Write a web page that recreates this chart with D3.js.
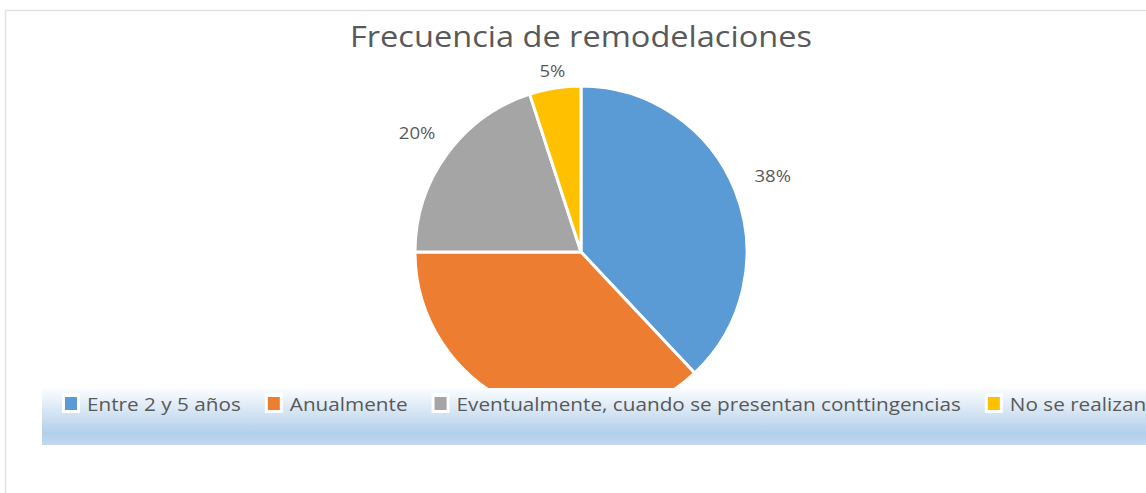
<!DOCTYPE html>
<html>
<head>
<meta charset="utf-8">
<script src="https://cdn.jsdelivr.net/npm/d3@7"></script>
<style>
  body { margin: 0; background: #ffffff; }
  svg { display: block; }
</style>
</head>
<body>
<script>
const categories = ["Entre 2 y 5 años", "Anualmente", "Eventualmente, cuando se presentan conttingencias", "No se realizan"];
const values = [38, 37, 20, 5];
const colors = ["#5b9bd5", "#ed7d31", "#a5a5a5", "#ffc000"];
const chartTitle = "Frecuencia de remodelaciones";

const W = 1146, H = 493;
const cx = 581, cy = 252, radius = 166;
const textColor = "#595959";
const fontFamily = "'Open Sans', 'DejaVu Sans', sans-serif";
const stretch = 1.09; // glyphs in the reference are a bit wider than Open Sans

const svg = d3.select("body").append("svg")
    .attr("width", W)
    .attr("height", H);

// chart frame
svg.append("rect")
    .attr("x", 5.5)
    .attr("y", 10.5)
    .attr("width", W + 20)
    .attr("height", H + 20)
    .attr("fill", "#ffffff")
    .attr("stroke", "#e3e3e3")
    .attr("stroke-width", 1.5);

// title
svg.append("text")
    .attr("x", cx)
    .attr("y", 47)
    .attr("text-anchor", "middle")
    .attr("font-family", fontFamily)
    .attr("font-size", "29px")
    .attr("fill", textColor)
    .attr("textLength", 462)
    .attr("lengthAdjust", "spacingAndGlyphs")
    .text(chartTitle);

const data = categories.map((c, i) => ({ label: c, value: values[i], color: colors[i] }));
const total = d3.sum(values);

const pie = d3.pie()
    .sort(null)
    .value(d => d.value);

const arc = d3.arc()
    .innerRadius(0)
    .outerRadius(radius);

const g = svg.append("g")
    .attr("transform", "translate(" + cx + "," + cy + ")");

const arcs = pie(data);

g.selectAll("path")
    .data(arcs)
    .enter().append("path")
    .attr("d", arc)
    .attr("fill", d => d.data.color)
    .attr("stroke", "#ffffff")
    .attr("stroke-width", 3)
    .attr("stroke-linejoin", "round");

// outside-end labels
const labels = g.selectAll(".lbl")
    .data(arcs)
    .enter().append("text")
    .attr("class", "lbl")
    .attr("font-family", fontFamily)
    .attr("font-size", "17px")
    .attr("fill", textColor)
    .attr("text-anchor", "middle")
    .attr("dy", "0.35em")
    .text(d => Math.round(d.data.value / total * 100) + "%");

labels.each(function(d) {
    const a = (d.startAngle + d.endAngle) / 2;
    const w = this.getComputedTextLength() * stretch;
    const s = Math.sin(a), c = Math.cos(a);
    const dist = radius + 13 + (11 + w / 2) * Math.abs(s);
    d3.select(this)
        .attr("x", dist * s)
        .attr("y", -dist * c)
        .attr("textLength", w)
        .attr("lengthAdjust", "spacingAndGlyphs");
});

// legend band
const defs = svg.append("defs");
const grad = defs.append("linearGradient")
    .attr("id", "legendGrad")
    .attr("x1", 0).attr("y1", 0)
    .attr("x2", 0).attr("y2", 1);
grad.append("stop").attr("offset", "0%").attr("stop-color", "#fbfdff");
grad.append("stop").attr("offset", "45%").attr("stop-color", "#d3e3f3");
grad.append("stop").attr("offset", "80%").attr("stop-color", "#b2cfea");
grad.append("stop").attr("offset", "100%").attr("stop-color", "#c3daef");

svg.append("rect")
    .attr("x", 42)
    .attr("y", 388)
    .attr("width", W - 42 + 10)
    .attr("height", 57)
    .attr("fill", "url(#legendGrad)");

const legend = svg.append("g")
    .attr("transform", "translate(0,404)");

let lx = 65;
data.forEach(function(d) {
    const item = legend.append("g");
    item.append("rect")
        .attr("x", lx - 3)
        .attr("y", -11)
        .attr("width", 18)
        .attr("height", 20)
        .attr("fill", "#ffffff");
    item.append("rect")
        .attr("x", lx)
        .attr("y", -7)
        .attr("width", 12)
        .attr("height", 13)
        .attr("fill", d.color);
    const t = item.append("text")
        .attr("x", lx + 22)
        .attr("y", 0)
        .attr("dy", "0.35em")
        .attr("font-family", fontFamily)
        .attr("font-size", "19px")
        .attr("fill", textColor)
        .text(d.label);
    const w = t.node().getComputedTextLength() * stretch;
    t.attr("textLength", w).attr("lengthAdjust", "spacingAndGlyphs");
    lx += 22 + w + 27;
});
</script>
</body>
</html>
